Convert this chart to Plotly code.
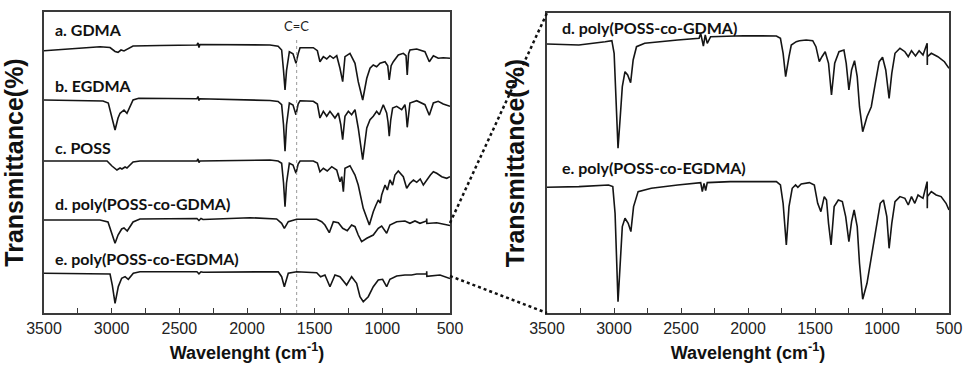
import plotly.graph_objects as go

# ---------------- data (wavenumber in cm-1, relative transmittance) ----------------
A_WN = [3500, 3308, 3086, 3012, 2975, 2953, 2931, 2909, 2887, 2842, 2643, 2370, 2362, 2355, 2348, 2052, 1830, 1770, 1744, 1730,
        1719, 1708, 1687, 1660, 1638, 1622, 1608, 1510, 1480, 1461, 1436, 1411, 1387, 1362, 1337, 1313, 1293, 1276, 1239, 1202,
        1178, 1145, 1115, 1091, 1067, 1042, 1017, 980, 960, 949, 935, 919, 882, 845, 825, 816, 806, 796, 746, 685,
        653, 623, 587, 550, 500]
A_T = [0, 2, 4, 3.2, -0.8, -1.6, 0.7, -0.3, 1.2, 4.7, 5.2, 5.7, 7.7, 3.2, 6.2, 6.2, 5.7, 4.5, 0.7, -20,
       -39.3, -20, -1, -3, -12.6, -3, 3, 3, 0, -11, -6, -8.3, -5, -7.6, -5, -17.6, -31, -6, -2.6, -12.6,
       -31, -49.3, -27.6, -17.6, -14.3, -16, -12.6, -11, -15, -29.3, -15, -11, -4.3, -2.6, -5, -24.3, -3, 0.7, 1.7, -1,
       -11, -5, -7.6, -7, -7.6]

B_WN = [3500, 3064, 3025, 2990, 2975, 2953, 2938, 2909, 2887, 2842, 2800, 2370, 2362, 2355, 2348, 1830, 1770, 1744, 1730, 1719,
        1708, 1687, 1660, 1638, 1622, 1608, 1510, 1480, 1461, 1436, 1411, 1387, 1350, 1325, 1307, 1293, 1276, 1251, 1227, 1202,
        1178, 1145, 1115, 1091, 1067, 1042, 1022, 993, 968, 958, 949, 938, 924, 894, 857, 833, 825, 816, 806, 796,
        746, 685, 653, 623, 587, 550, 500]
B_T = [0, -1, -3, -20, -30, -18, -13.3, -10, -13.3, 0, 1.7, 1.3, 3.5, -0.5, 1.3, -0.5, -1.5, -4.7, -25, -51.3,
       -25, -3, -5, -14.7, -4, -0.7, -1.3, -4, -18, -11.3, -16.3, -11.3, -18, -13, -24.7, -39.7, -16.3, -11.3, -14.7, -9.7,
       -28, -59.7, -28, -19.7, -16.3, -11.3, -14.7, -4.7, -13, -22, -36.3, -20, -8, -6.3, -9.7, -4.7, -12, -27.3, -12, -3,
       -0.7, -4.7, -15.3, -3, -1.3, -4, -6.3]

C_WN = [3500, 3034, 2998, 2961, 2938, 2924, 2901, 2887, 2842, 2791, 2370, 2362, 2355, 2348, 1830, 1770, 1744, 1730, 1719, 1708,
        1687, 1660, 1638, 1622, 1608, 1510, 1480, 1461, 1436, 1407, 1374, 1337, 1313, 1300, 1288, 1276, 1239, 1202, 1178, 1141,
        1096, 1080, 1067, 1050, 1030, 1015, 1005, 980, 963, 944, 924, 907, 882, 845, 820, 796, 770, 746, 720, 697,
        672, 645, 623, 598, 561, 524, 500]
C_T = [0, 0, -5, -9, -7, -8, -6, -7, -1, 0, 0, 2, -1.5, 0, 1, 0, -2.3, -22, -45.7, -22,
       -2.3, -4, -12.3, -3, 0, 0, -2, -10.7, -7.3, -10, -5.7, -9, -20.7, -15.7, -30.7, -7.3, -4.7, -14, -24, -47.3,
       -64, -55, -50.7, -45, -39, -42, -34, -24, -29, -19, -24, -14, -10, -15.7, -27.3, -22.3, -19, -21.3, -18, -24,
       -19, -14, -10.7, -12.3, -15.7, -17.3, -15.7]

D_WN = [3500, 3086, 3027, 2998, 2975, 2953, 2926, 2909, 2885, 2842, 2791, 2370, 2355, 2340, 2325, 1978, 1781, 1744, 1724, 1695,
        1633, 1485, 1448, 1424, 1392, 1362, 1325, 1293, 1259, 1227, 1202, 1178, 1153, 1115, 1067, 1030, 1005, 968, 944, 894,
        833, 796, 759, 722, 673, 672, 671, 598, 505, 500]
D_T = [0, 0, -2, -15, -23.3, -15, -9, -8, -11, -2, 1, 1.5, -0.5, 1.5, 0.5, 2.3, 1, -3.3, -8.3, -1.7,
       0.7, 0.7, -1.7, -5, -12.7, -1.7, -2.7, -8.3, -10.7, -5, -6.7, -15, -21.7, -18.3, -15, -8.3, -6, -13.3, -5, -1.7,
       -1, -3.3, -1, -3.3, -1, 1.5, -3.5, -2.7, -5, -5.5]

E_WN = [3500, 3012, 2995, 2975, 2951, 2926, 2901, 2877, 2840, 2791, 2370, 2355, 2340, 2325, 1769, 1744, 1724, 1695, 1633, 1485,
        1456, 1424, 1387, 1350, 1313, 1264, 1227, 1190, 1165, 1141, 1104, 1067, 1030, 998, 968, 944, 894, 833, 784, 746,
        673, 672, 671, 574, 505, 500]
E_T = [0, -0.7, -12, -30, -13.3, -5, -3.3, -6, 0, 1.6, 1.6, -0.5, 1.5, 1, 1.6, -3.4, -13.4, 0, 1.6, 0.6,
       -3.4, -1.7, -13.4, -1.7, -3.4, -11.7, -3.4, -10, -23.4, -28.4, -23.4, -13.4, -6.7, -6, -13.4, -6, -2.7, -1.7, -1.7, -0.7,
       -0.7, 2, -3, -1.7, -5, -5.2]

# magnified spectra (right panel)
RD_WN = [3500, 3262, 3066, 3016, 2999, 2984, 2970, 2955, 2938, 2918, 2898, 2876, 2857, 2832, 2771, 2525, 2365, 2353, 2333, 2319,
         2304, 2279, 2033, 1788, 1758, 1738, 1719, 1694, 1677, 1640, 1616, 1566, 1517, 1493, 1468, 1448, 1424, 1399, 1377, 1353,
         1321, 1284, 1267, 1247, 1227, 1205, 1185, 1168, 1144, 1112, 1080, 1050, 1021, 996, 972, 947, 927, 903, 866, 829,
         804, 780, 750, 723, 694, 663, 662, 661, 632, 583, 534, 500]
RD_T = [0, -1, 2.3, 3.3, -9.3, -59.3, -104.3, -76, -42.7, -27.7, -31, -38.7, -16, -2.7, 0.7, 4, 5.7, 10.7, -2, 9,
        0.7, 7.3, 8.3, 8, 5.7, -9.3, -32.7, -12.7, -1, 2.3, 3.3, 4, 3.3, -2.7, -17.7, -12.7, -7.7, -19.3, -51, -19.3,
        -7.7, -6, -19.3, -46, -26, -16.7, -32.7, -62.7, -87.7, -72.7, -62.7, -39.3, -17.7, -13.3, -26, -54.3, -29.3, -9.3, -4.3, -7.7,
        -12.7, -6.7, -12, -6.7, -11, 0.7, -21, -12.7, -9.3, -12.7, -17.7, -24.3]

RE_WN = [3500, 3262, 3041, 3009, 2992, 2980, 2970, 2955, 2938, 2918, 2894, 2874, 2854, 2820, 2722, 2525, 2353, 2341, 2328, 2316,
         2304, 2132, 1788, 1758, 1738, 1714, 1694, 1670, 1645, 1628, 1603, 1542, 1505, 1480, 1456, 1431, 1414, 1399, 1380, 1357,
         1326, 1296, 1271, 1247, 1227, 1208, 1185, 1168, 1144, 1112, 1075, 1038, 1013, 989, 964, 947, 927, 903, 866, 829,
         804, 780, 755, 731, 694, 663, 662, 661, 632, 596, 559, 522, 500]
RE_T = [0, 0.7, 2.3, 0.7, -26, -76, -114.3, -79.3, -39.3, -31, -36, -44.3, -19.3, -4.3, -1, 2.3, 4.7, -4.3, 4, -3.3,
        4.7, 5.7, 5.7, 2.3, -16, -57.7, -19.3, -1, 2.3, 0, 3.3, 4.7, 2.3, -16, -24.3, -9.3, -12.7, -36, -57.7, -19.3,
        -12.7, -14.3, -29.3, -54.3, -34.3, -22.7, -39.3, -76, -112, -96, -66, -39.3, -16, -12.7, -29.3, -61, -36, -14.3, -9.3, -11,
        -17.7, -9.3, -16, -7.7, -11, 5.7, -21, -9.3, -4.3, -7.7, -9.3, -16, -22.7]

LEFT_LABELS = ["a. GDMA", "b. EGDMA", "c. POSS", "d. poly(POSS-co-GDMA)", "e. poly(POSS-co-EGDMA)"]
RIGHT_LABELS = ["d. poly(POSS-co-GDMA)", "e. poly(POSS-co-EGDMA)"]
TICK_VALS = [3500, 3000, 2500, 2000, 1500, 1000, 500]
TICK_TEXT = ["3500", "3000", "2500", "2000", "1500", "1000", "500"]
CC_POS = 1633
X_TITLE = "Wavelenght (cm<sup>-1</sup>)"
Y_TITLE = "Transmittance(%)"

# ---------------- layout helpers ----------------
W, H = 967, 372
def fx(p): return p / W
def fy(p): return 1 - p / H

LINE = dict(color="#151515", width=1.6)
fig = go.Figure()

left_series = [(A_WN, A_T), (B_WN, B_T), (C_WN, C_T), (D_WN, D_T), (E_WN, E_T)]
left_offsets = [262.3, 213, 152, 93, 39.7]
for (wn, t), off in zip(left_series, left_offsets):
    fig.add_trace(go.Scatter(x=wn, y=[off + v for v in t], mode="lines", line=LINE,
                             xaxis="x", yaxis="y", hoverinfo="skip", showlegend=False))

right_series = [(RD_WN, RD_T), (RE_WN, RE_T)]
right_offsets = [269, 125.7]
for (wn, t), off in zip(right_series, right_offsets):
    fig.add_trace(go.Scatter(x=wn, y=[off + v for v in t], mode="lines", line=LINE,
                             xaxis="x2", yaxis="y2", hoverinfo="skip", showlegend=False))

AXC = "#3a3a3a"
TITLE = dict(family="Liberation Sans, Arial", size=18, color="#111", weight="bold")
YT = dict(family="Liberation Sans, Arial", size=25, color="#111", weight="bold")

def xax(domain, anchor):
    return dict(domain=domain, range=[3500, 500], showline=True, mirror=True, linecolor=AXC, linewidth=1.5,
                ticks="inside", ticklen=5, tickwidth=1.2, tickcolor=AXC, tickvals=TICK_VALS, ticktext=TICK_TEXT,
                tickfont=dict(family="Liberation Sans, Arial", size=16, color="#222"),
                showgrid=False, zeroline=False, automargin=False, anchor=anchor,
                title=dict(text=X_TITLE, font=TITLE, standoff=10),
                minor=dict(dtick=250, tick0=500, ticks="inside", ticklen=5, tickwidth=1.2, tickcolor=AXC))

def yax(domain, rng, anchor):
    return dict(domain=domain, range=rng, showline=True, mirror=True, linecolor=AXC, linewidth=1.5,
                showticklabels=False, ticks="", showgrid=False, zeroline=False, anchor=anchor, automargin=False,
                title=dict(text=Y_TITLE, font=YT, standoff=14))

fig.update_layout(
    width=W, height=H, margin=dict(l=0, r=0, t=0, b=0, autoexpand=False),
    paper_bgcolor="white", plot_bgcolor="white",
    xaxis=xax([fx(44), fx(450)], "y"),
    yaxis=yax([fy(313), fy(12)], [0, 301], "x"),
    xaxis2=xax([fx(547), fx(949)], "y2"),
    yaxis2=yax([fy(313), fy(13)], [0, 300], "x2"),
)

LBL = dict(family="Lato, Open Sans, sans-serif", size=16, color="#111", weight="bold")
annos = []
for text, ypix in zip(LEFT_LABELS, [29, 85, 147, 204, 258]):
    annos.append(dict(text=text, x=fx(53), y=fy(ypix), xref="paper", yref="paper",
                      xanchor="left", yanchor="middle", showarrow=False, font=LBL))
for text, ypix in zip(RIGHT_LABELS, [27, 167]):
    annos.append(dict(text=text, x=fx(560), y=fy(ypix), xref="paper", yref="paper",
                      xanchor="left", yanchor="middle", showarrow=False, font=LBL))
annos.append(dict(text="C=C", x=CC_POS, y=fy(26), xref="x", yref="paper", xanchor="center", yanchor="middle",
                  showarrow=False, font=dict(family="Lato, Open Sans, sans-serif", size=13, color="#222")))
fig.update_layout(annotations=annos)

shapes = [
    dict(type="line", xref="x", yref="paper", x0=CC_POS, x1=CC_POS, y0=fy(313), y1=fy(38),
         line=dict(color="#9a9a9a", width=1, dash="dot")),
    dict(type="line", xref="paper", yref="paper", x0=fx(450), y0=fy(223), x1=fx(547), y1=fy(13),
         line=dict(color="#111", width=2.5, dash="dot")),
    dict(type="line", xref="paper", yref="paper", x0=fx(450), y0=fy(276), x1=fx(547), y1=fy(313),
         line=dict(color="#111", width=2.5, dash="dot")),
]
fig.update_layout(shapes=shapes)

fig.write_html("out.html")
